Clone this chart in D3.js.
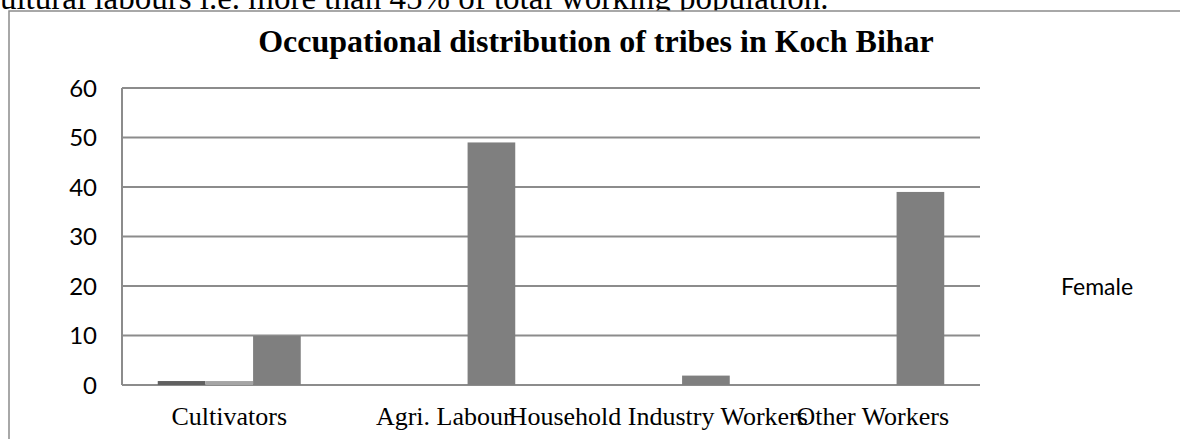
<!DOCTYPE html>
<html>
<head>
<meta charset="utf-8">
<script src="https://cdn.jsdelivr.net/npm/d3@7"></script>
<style>
  body { margin: 0; background: #fff; }
  svg { display: block; }
</style>
</head>
<body>
<div id="chart"></div>
<script>
// data
var categories = ["Cultivators", "Agri. Labour", "Household Industry Workers", "Other Workers"];
var seriesNames = ["Series 1", "Series 2", "Female"];
var series1 = [0.8, 0, 0, 0];
var series2 = [0.8, 0, 0, 0];
var female = [9.9, 49, 1.9, 39];
var yTicks = [0, 10, 20, 30, 40, 50, 60];
var legendItems = ["Female"];

var w = 1180, h = 439,
    margin = {left: 122, right: 200, top: 88, bottom: 54};

var svg = d3.select("#chart")
    .append("svg")
    .attr("width", w)
    .attr("height", h);

var serif = "'Liberation Serif', 'Times New Roman', serif",
    sans = "Lato, 'Open Sans', sans-serif";

// line of body text above the chart, cut off by the page edge
svg.append("text")
    .attr("x", -66)
    .attr("y", 9)
    .style("font-family", serif)
    .style("font-size", "33px")
    .text("agricultural labours i.e. more than 45% of total working population.");

// chart frame
svg.append("rect")
    .attr("x", 9)
    .attr("y", 11)
    .attr("width", 1200)
    .attr("height", 460)
    .attr("fill", "#fff")
    .attr("stroke", "#8c8c8c")
    .attr("stroke-width", 1.5);

svg.append("text")
    .attr("x", 596)
    .attr("y", 52)
    .attr("text-anchor", "middle")
    .style("font-family", serif)
    .style("font-weight", "bold")
    .style("font-size", "32px")
    .text("Occupational distribution of tribes in Koch Bihar");

var x = d3.scaleBand()
    .domain(categories)
    .range([margin.left, w - margin.right]);

// three series, gap width 150%
var xs = d3.scaleBand()
    .domain(seriesNames)
    .range([0, x.bandwidth()])
    .paddingOuter(0.75);

var y = d3.scaleLinear()
    .domain([0, 60])
    .range([h - margin.bottom, margin.top]);

var color = d3.scaleOrdinal()
    .domain(seriesNames)
    .range(["#606060", "#a5a5a5", "#7f7f7f"]);

// gridlines
svg.append("g")
    .selectAll("line")
    .data(yTicks)
  .enter().append("line")
    .attr("x1", margin.left)
    .attr("x2", w - margin.right)
    .attr("y1", function(d) { return y(d); })
    .attr("y2", function(d) { return y(d); })
    .attr("stroke", "#8c8c8c")
    .attr("stroke-width", 2);

svg.append("line")
    .attr("x1", margin.left)
    .attr("x2", margin.left)
    .attr("y1", y(60))
    .attr("y2", y(0))
    .attr("stroke", "#8c8c8c")
    .attr("stroke-width", 2);

// tick labels
svg.append("g")
    .selectAll("text")
    .data(yTicks)
  .enter().append("text")
    .attr("x", 97)
    .attr("y", function(d) { return y(d); })
    .attr("dy", "0.36em")
    .attr("text-anchor", "end")
    .style("font-family", sans)
    .style("font-size", "24px")
    .text(function(d) { return d; });

// bars
var rows = [series1, series2, female];
var bars = [];
rows.forEach(function(vals, i) {
  vals.forEach(function(v, j) {
    bars.push({s: seriesNames[i], c: categories[j], v: v});
  });
});

svg.append("g")
    .selectAll("rect")
    .data(bars.filter(function(d) { return d.v > 0; }))
  .enter().append("rect")
    .attr("x", function(d) { return x(d.c) + xs(d.s); })
    .attr("width", xs.bandwidth())
    .attr("y", function(d) { return y(d.v); })
    .attr("height", function(d) { return y(0) - y(d.v); })
    .attr("fill", function(d) { return color(d.s); });

// category labels
svg.append("g")
    .selectAll("text")
    .data(categories)
  .enter().append("text")
    .attr("x", function(d) { return x(d) + x.bandwidth() / 2; })
    .attr("y", 425)
    .attr("text-anchor", "middle")
    .style("font-family", serif)
    .style("font-size", "26px")
    .text(function(d) { return d; });

// legend
svg.append("g")
    .selectAll("text")
    .data(legendItems)
  .enter().append("text")
    .attr("x", 1061)
    .attr("y", 295)
    .style("font-family", sans)
    .style("font-size", "23px")
    .text(function(d) { return d; });
</script>
</body>
</html>
